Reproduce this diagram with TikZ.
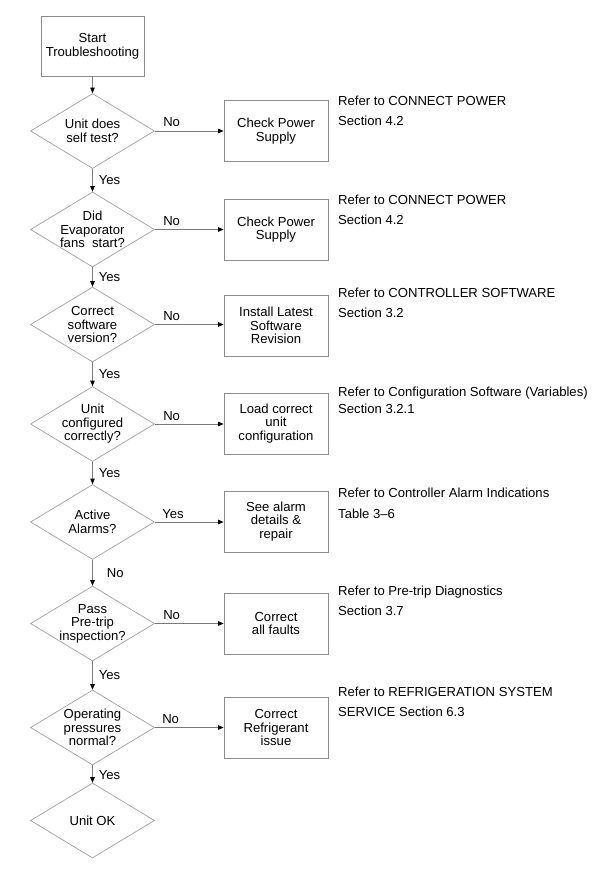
\documentclass[tikz,border=0pt]{standalone}
\usepackage{fontspec}
\setmainfont{Liberation Sans}
\usetikzlibrary{arrows.meta,shapes.geometric}
\definecolor{boxgray}{HTML}{8C8C8C}
\definecolor{diagray}{HTML}{A0A0A0}
\definecolor{linegray}{HTML}{7A7A7A}
\begin{document}
\begin{tikzpicture}[x=1pt,y=-1pt,
  every node/.style={font=\fontsize{13.1}{13.6}\selectfont, inner sep=0pt},
  boxnode/.style={draw=boxgray, line width=0.8pt, minimum width=104pt, minimum height=61pt, align=center},
  decision/.style={diamond, draw=diagray, line width=0.7pt, minimum width=124pt, minimum height=75pt},
  dtext/.style={align=center},
  reftext/.style={anchor=base west, align=left, font=\fontsize{13.1}{20}\selectfont},
  flow/.style={draw=linegray, line width=0.8pt, -{Triangle[length=5.5pt,width=4.5pt,color=black]}},
  lblside/.style={pos=0, anchor=base west, xshift=8pt, yshift=4pt},
  lbldown/.style={midway, anchor=west, xshift=6pt}
]
\useasboundingbox (0,0) rectangle (615,869);
\fill[white] (0,0) rectangle (615,869);

\node[boxnode, minimum width=103pt, minimum height=60pt, font=\fontsize{13.1}{14.4}\selectfont] (start) at (92.5,46) {Start\\Troubleshooting};

\node[decision] (d1) at (92.5,131) {};
\node[dtext] (d1t) at (d1.center) {Unit does\\self test?};
\node[decision] (d2) at (92.5,229.5) {};
\node[dtext] (d2t) at (d2.center) {Did\\Evaporator\\fans\ \ start?};
\node[decision] (d3) at (92.5,324.5) {};
\node[dtext] (d3t) at (d3.center) {Correct\\software\\version?};
\node[decision] (d4) at (92.5,424) {};
\node[dtext] (d4t) at (d4.center) {Unit\\configured\\correctly?};
\node[decision] (d5) at (92.5,522) {};
\node[dtext] (d5t) at (d5.center) {Active\\Alarms?};
\node[decision] (d6) at (92.5,623.5) {};
\node[dtext] (d6t) at (d6.center) {Pass\\Pre-trip\\inspection?};
\node[decision] (d7) at (92.5,727.5) {};
\node[dtext] (d7t) at (d7.center) {Operating\\pressures\\normal?};
\node[decision] (d8) at (92.5,820.5) {};
\node[dtext] (d8t) at (d8.center) {Unit OK};

\node[boxnode] (b1) at (276,131) {Check Power\\Supply};
\node[boxnode] (b2) at (276,229.5) {Check Power\\Supply};
\node[boxnode] (b3) at (276,325.5) {Install Latest\\Software\\Revision};
\node[boxnode] (b4) at (276,423.5) {Load correct\\unit\\configuration};
\node[boxnode] (b5) at (276,521.5) {See alarm\\details \&\\repair};
\node[boxnode] (b6) at (276,623.5) {Correct\\all faults};
\node[boxnode] (b7) at (276,727.5) {Correct\\Refrigerant\\issue};

\node[reftext] (r1) at (338,126) {Refer to CONNECT POWER\\Section 4.2};
\node[reftext] (r2) at (338,224.5) {Refer to CONNECT POWER\\Section 4.2};
\node[reftext] (r3) at (338,317.5) {Refer to CONTROLLER SOFTWARE\\Section 3.2};
\node[reftext] (r4) at (338,413) {Refer to Configuration Software (Variables)\\[-3pt]Section 3.2.1};
\node[reftext] (r5) at (338,518) {Refer to Controller Alarm Indications\\[0.5pt]Table 3--6};
\node[reftext] (r6) at (338,615) {Refer to Pre-trip Diagnostics\\Section 3.7};
\node[reftext] (r7) at (338,716) {Refer to REFRIGERATION SYSTEM\\SERVICE Section 6.3};

\draw[flow] (start.south) -- (d1.north);
\draw[flow] (d1.south) -- node[lbldown]{Yes} (d2.north);
\draw[flow] (d2.south) -- node[lbldown]{Yes} (d3.north);
\draw[flow] (d3.south) -- node[lbldown]{Yes} (d4.north);
\draw[flow] (d4.south) -- node[lbldown]{Yes} (d5.north);
\draw[flow] (d5.south) -- node[lbldown, xshift=8pt]{No} (d6.north);
\draw[flow] (d6.south) -- node[lbldown]{Yes} (d7.north);
\draw[flow] (d7.south) -- node[lbldown, yshift=-1pt]{Yes} (d8.north);

\draw[flow] (d1.east) -- node[lblside]{No} (d1.east -| b1.west);
\draw[flow] (d2.east) -- node[lblside]{No} (d2.east -| b2.west);
\draw[flow] (d3.east) -- node[lblside]{No} (d3.east -| b3.west);
\draw[flow] (d4.east) -- node[lblside]{No} (d4.east -| b4.west);
\draw[flow] (d5.east) -- node[lblside, xshift=-1pt]{Yes} (d5.east -| b5.west);
\draw[flow] (d6.east) -- node[lblside]{No} (d6.east -| b6.west);
\draw[flow] (d7.east) -- node[lblside, xshift=-1pt]{No} (d7.east -| b7.west);
\end{tikzpicture}
\end{document}
